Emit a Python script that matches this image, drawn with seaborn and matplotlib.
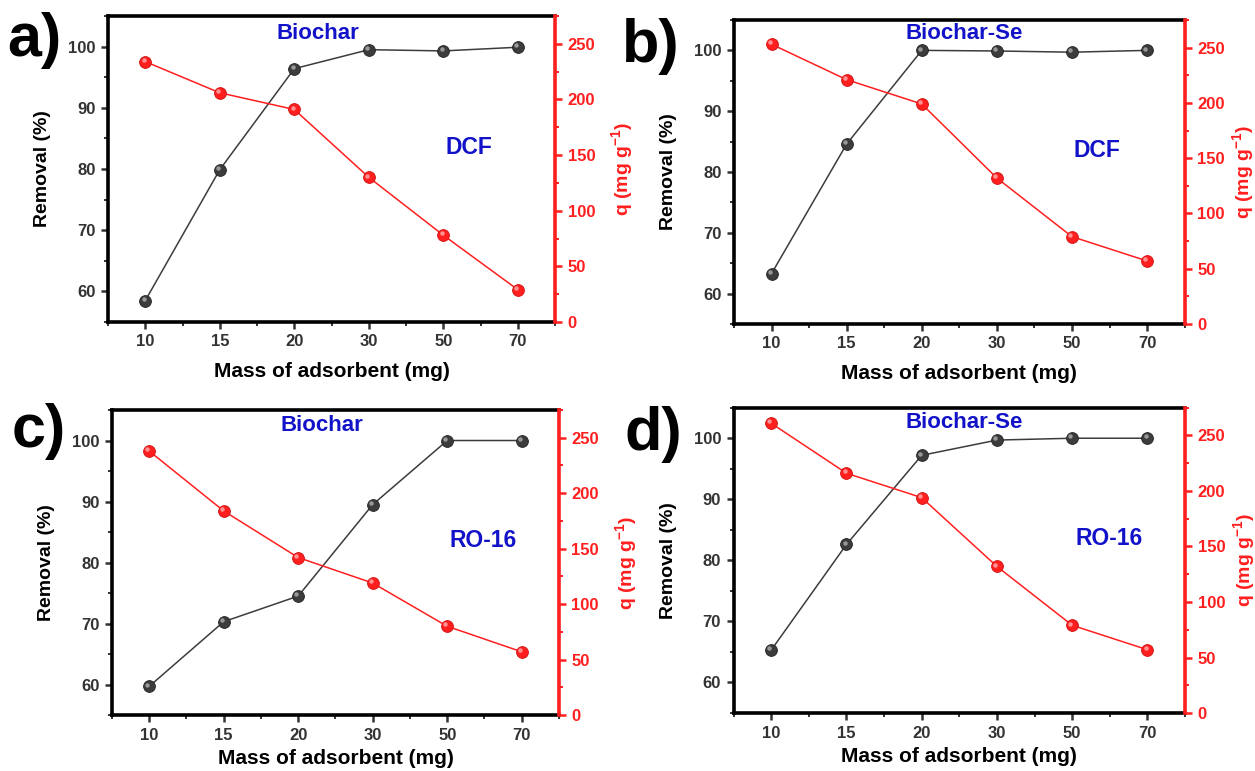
import numpy as np
import pandas as pd
import matplotlib
matplotlib.use("Agg")
import matplotlib.pyplot as plt
from matplotlib.ticker import MultipleLocator, FixedLocator
from matplotlib.transforms import ScaledTranslation
import seaborn as sns

# ---------------- data ----------------
mass = [10, 15, 20, 30, 50, 70]

removal_a = [58.5, 79.9, 96.4, 99.5, 99.3, 99.9]
q_a = [234, 206, 191, 130, 78, 29]

removal_b = [63.3, 84.6, 100.0, 99.9, 99.7, 100.0]
q_b = [253, 221, 199, 132, 79, 57]

removal_c = [59.7, 70.3, 74.5, 89.5, 100.0, 100.0]
q_c = [238, 184, 142, 119, 80, 57]

removal_d = [65.3, 82.6, 97.2, 99.7, 100.0, 100.0]
q_d = [261, 216, 194, 132, 79, 57]

panel_labels = ["a)", "b)", "c)", "d)"]
materials = ["Biochar", "Biochar-Se", "Biochar", "Biochar-Se"]
pollutants = ["DCF", "DCF", "RO-16", "RO-16"]

# ---------------- style ----------------
sns.set_style("ticks")
plt.rcParams['font.family'] = ['Liberation Sans', 'DejaVu Sans']
plt.rcParams['mathtext.fontset'] = 'custom'
plt.rcParams['mathtext.rm'] = 'Liberation Sans:bold'
plt.rcParams['mathtext.bf'] = 'Liberation Sans:bold'
plt.rcParams['mathtext.default'] = 'bf'

fig = plt.figure(figsize=(12.55, 7.71), dpi=100)

rects = [
    (0.0861, 0.5824, 0.3562, 0.3968),
    (0.5849, 0.5798, 0.3590, 0.3943),
    (0.0892, 0.0726, 0.3562, 0.3956),
    (0.5845, 0.0752, 0.3598, 0.3960),
]
mat_pos = [(0.47, 0.944), (0.51, 0.954), (0.47, 0.948), (0.51, 0.95)]
pol_pos = [(0.807, 0.57), (0.806, 0.57), (0.83, 0.571), (0.832, 0.573)]
lab_pos = [(0.006, 0.947), (0.496, 0.94), (0.009, 0.44), (0.498, 0.437)]
q_pad = [10, 4, 10, 4]
x_pad = [9, 9, 5, 5]

removals = [removal_a, removal_b, removal_c, removal_d]
qs = [q_a, q_b, q_c, q_d]

GRAY = '#3c3c3c'
RED = '#ff1f1f'
BLUE = '#1212c8'
TICKC = '#333333'


def highlight(ax, x, y, color):
    off = ScaledTranslation(-1.3 / 72, 1.3 / 72, fig.dpi_scale_trans)
    ax.plot(x, y, 'o', ms=3.2, color=color, alpha=0.8, mec='none',
            transform=ax.transData + off, zorder=10)


for i in range(4):
    ax = fig.add_axes(rects[i])
    ax2 = ax.twinx()
    df = pd.DataFrame({"mass": mass, "removal": removals[i], "q": qs[i]})

    sns.pointplot(data=df, x="mass", y="removal", ax=ax, color=GRAY,
                  markers="o", linestyles="-", errorbar=None,
                  markersize=8.5, linewidth=1.1, markeredgecolor='#222222',
                  markeredgewidth=0.6)
    sns.pointplot(data=df, x="mass", y="q", ax=ax2, color=RED,
                  markers="o", linestyles="-", errorbar=None,
                  markersize=8.5, linewidth=1.1, markeredgecolor='#d01010',
                  markeredgewidth=0.6)
    xpos = np.arange(len(mass))
    highlight(ax, xpos, removals[i], '#b0b0b0')
    highlight(ax2, xpos, qs[i], '#ffb0b0')

    ax.set_xlim(-0.5, len(mass) - 0.5)
    ax.set_ylim(55, 105)
    ax2.set_ylim(0, 275)

    ax.yaxis.set_major_locator(FixedLocator([60, 70, 80, 90, 100]))
    ax.yaxis.set_minor_locator(MultipleLocator(5))
    ax2.yaxis.set_major_locator(FixedLocator([0, 50, 100, 150, 200, 250]))
    ax2.yaxis.set_minor_locator(MultipleLocator(25))
    ax.xaxis.set_minor_locator(MultipleLocator(0.5))

    for s in ['left', 'top', 'bottom']:
        ax.spines[s].set_linewidth(2.6)
        ax.spines[s].set_color('black')
    ax.spines['right'].set_visible(False)
    for s in ['left', 'top', 'bottom']:
        ax2.spines[s].set_visible(False)
    ax2.spines['right'].set_linewidth(2.6)
    ax2.spines['right'].set_color(RED)

    ax.tick_params(axis='both', which='major', direction='out', length=5,
                   width=1.8, color='#333333', labelsize=12, labelcolor=TICKC,
                   pad=4)
    ax.tick_params(axis='both', which='minor', direction='out', length=3,
                   width=1.4, color='#333333')
    ax2.tick_params(axis='y', which='major', direction='out', length=5,
                    width=1.8, color=RED, labelsize=12, labelcolor=RED, pad=4)
    ax2.tick_params(axis='y', which='minor', direction='out', length=3,
                    width=1.4, color=RED)
    for lab in ax.get_xticklabels() + ax.get_yticklabels() + ax2.get_yticklabels():
        lab.set_fontweight('bold')

    ax.set_xlabel("Mass of adsorbent (mg)", fontsize=15, fontweight='bold',
                  color='black', labelpad=x_pad[i])
    ax.set_ylabel("Removal (%)", fontsize=14, fontweight='bold',
                  color='black', labelpad=12)
    ax2.set_ylabel(r"q (mg g$^{-1}$)", fontsize=14, fontweight='bold',
                   color=RED, labelpad=q_pad[i])

    ax.text(mat_pos[i][0], mat_pos[i][1], materials[i], transform=ax.transAxes,
            ha='center', va='center', fontsize=16, fontweight='bold', color=BLUE)
    ax.text(pol_pos[i][0], pol_pos[i][1], pollutants[i], transform=ax.transAxes,
            ha='center', va='center', fontsize=16.5, fontweight='bold', color=BLUE)
    fig.text(lab_pos[i][0], lab_pos[i][1], panel_labels[i], ha='left',
             va='center', fontsize=44, fontweight='bold', color='black')

fig.savefig("out.png", dpi=100)
